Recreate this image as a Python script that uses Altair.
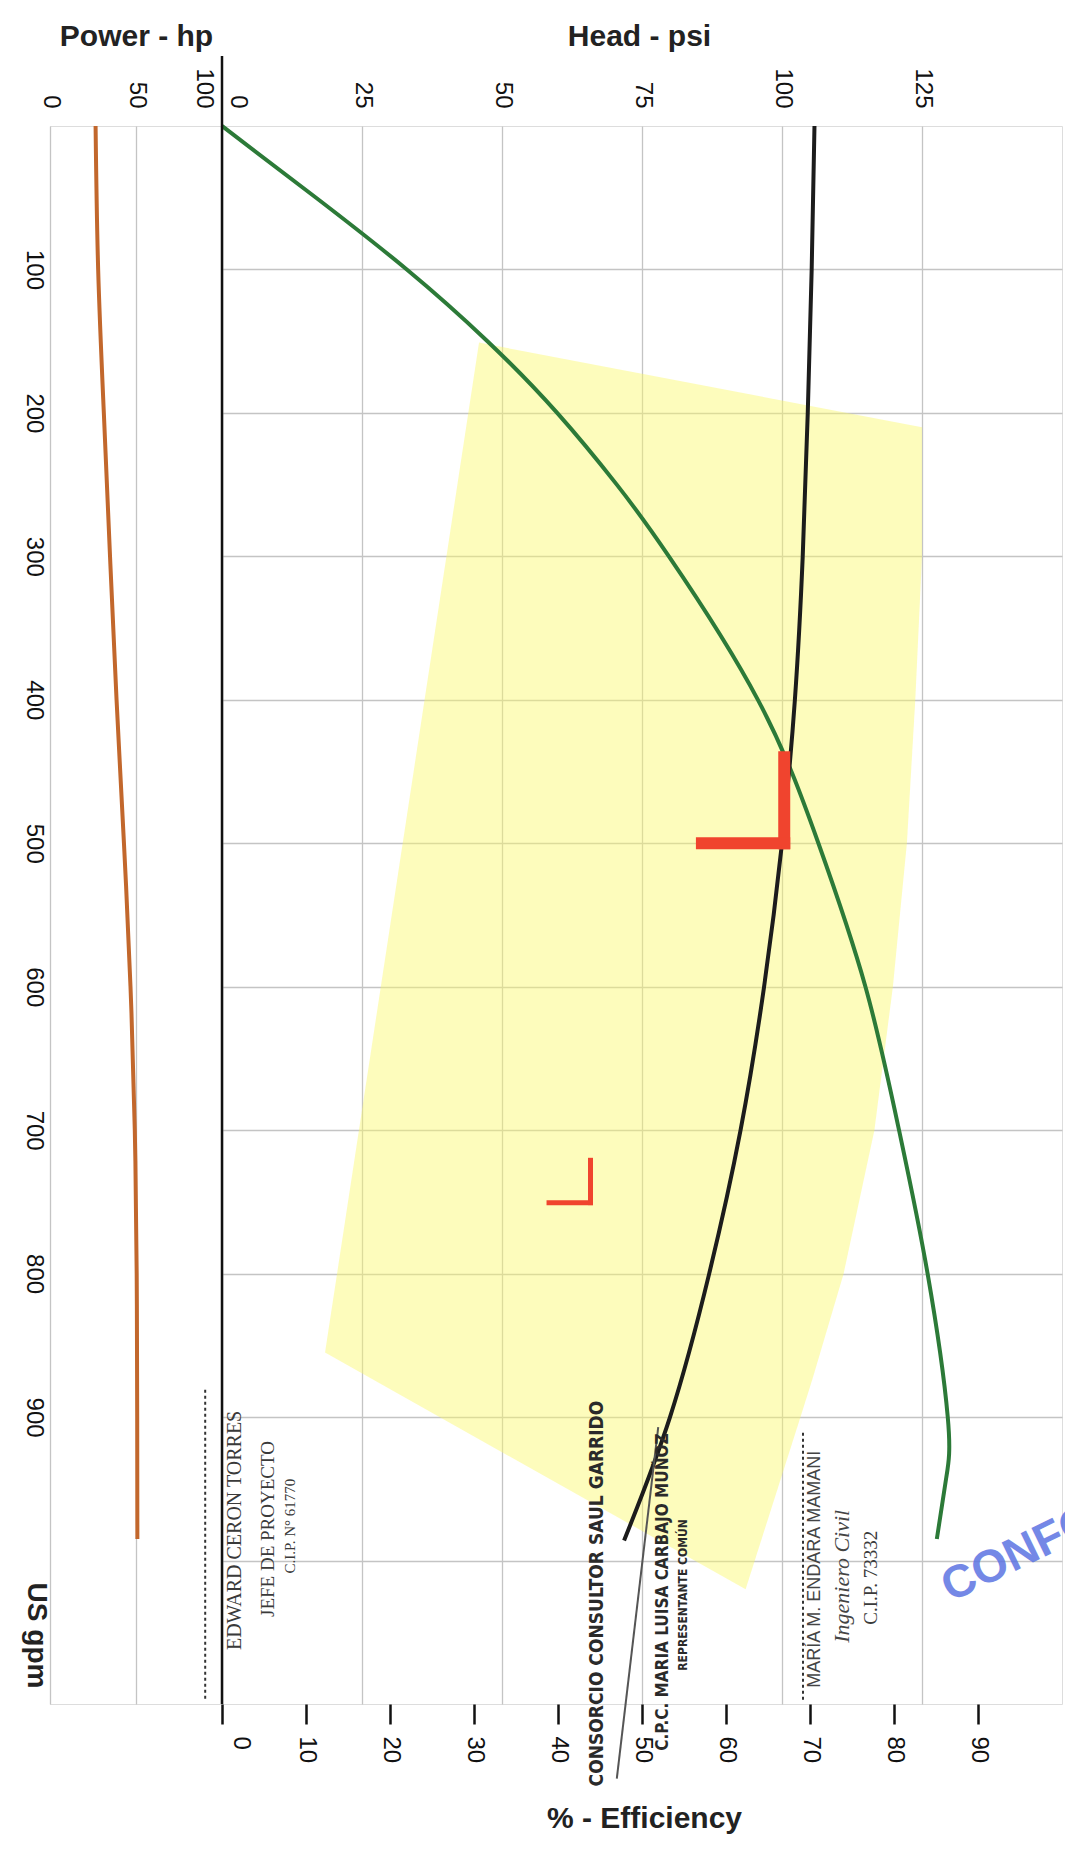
import altair as alt
import pandas as pd

# ---------------- data ----------------
# Head curve (psi) vs flow (US gpm)
head_gpm = [0, 100, 200, 300, 400, 500, 600, 700, 800, 900, 986]
head_psi = [105.8, 105.3, 104.6, 103.7, 102.3, 100.0, 96.8, 92.6, 87.0, 80.0, 71.8]

# Efficiency curve (%) vs flow
eff_gpm = [0, 50, 100, 150, 200, 250, 300, 400, 500, 600, 700, 800, 900, 943, 985]
eff_pct = [0, 11.2, 22.0, 31.6, 39.9, 47.0, 53.2, 63.8, 71.0, 76.6, 80.6, 84.0, 86.4, 86.2, 85.1]

# Power curve (hp) vs flow
pow_gpm = [0, 100, 200, 300, 400, 500, 600, 700, 800, 900, 985]
pow_hp = [26.5, 28.0, 31.3, 34.9, 38.7, 43.0, 46.8, 49.3, 50.4, 50.7, 50.8]

# Yellow operating region (vertices, head psi vs gpm)
poly_gpm = [151, 210, 300, 400, 500, 600, 700, 800, 874, 900, 1020, 855, 151]
poly_head = [45.9, 125, 125, 123.8, 122.3, 119.8, 116.5, 111.0, 105.4, 103.3, 93.5, 18.4, 45.9]

# Red duty-point markers (L shapes)
red_gpm1 = [440, 500, 721, 750.5]
red_gpm2 = [500, 500, 750.5, 750.5]
red_h1 = [100.4, 85.7, 65.8, 58.4]
red_h2 = [100.4, 100.4, 65.8, 65.8]
red_w = [12, 12, 5, 5]

# Axis tick values
gpm_ticks = [100, 200, 300, 400, 500, 600, 700, 800, 900, 1000]
hp_ticks = [0, 50, 100]
psi_ticks = [0, 25, 50, 75, 100, 125]
eff_ticks = [0, 10, 20, 30, 40, 50, 60, 70, 80, 90]

# Signature-block texts
serif_txt = ["EDWARD CERON TORRES", "JEFE DE PROYECTO", "C.I.P. N° 61770", "C.I.P. 73332"]
serif_head = [2.3, 8.2, 12.1, 115.9]
serif_gpm = [979, 978, 976, 1012]
serif_fs = [20, 19, 15, 19]

bold_txt = ["CONSORCIO CONSULTOR SAUL GARRIDO", "C.P.C. MARIA LUISA CARBAJO MUÑOZ", "REPRESENTANTE COMÚN"]
bold_head = [67.0, 78.8, 82.3]
bold_gpm = [1023, 1022, 1024]
bold_fs = [19, 17, 12]

sans_txt = ["MARÍA M. ENDARA MAMANI"]
sans_head = [105.9]
sans_gpm = [1006]

ital_txt = ["Ingeniero Civil"]
ital_head = [110.7]
ital_gpm = [1011]

dash_head = [-3.0, 103.75]
dash_gpm1 = [881, 911]
dash_gpm2 = [1097, 1097]

slant_h1, slant_h2 = [70.5], [77.9]
slant_g1, slant_g2 = [1152], [907]

# ---------------- layout ----------------
W, H = 1012, 1578
P = 172  # pixel width of power band

y_scale = alt.Scale(domain=[0, 1100], reverse=True, nice=False, zero=False)
y_axis = alt.Axis(
    values=gpm_ticks, labelExpr="datum.value == 1000 ? '' : datum.label",
    orient="left", ticks=False, domain=False, grid=True,
    gridColor="#c4c4c4", gridWidth=1.3,
    labelAngle=90, labelAlign="center", labelBaseline="top", labelPadding=5,
    labelFont="Liberation Sans", labelFontSize=24, labelColor="#111",
    labelOverlap=False, labelFlush=False,
    title="US gpm", titleAngle=90, titleX=-15, titleY=1509,
    titleAlign="center", titleBaseline="middle",
    titleFont="Liberation Sans", titleFontSize=28, titleFontWeight="bold", titleColor="#222",
)


def Y(field):
    return alt.Y(f"{field}:Q", scale=y_scale, axis=y_axis)


def head_scale():
    return alt.Scale(domain=[0, 150], range=[P, W], nice=False, zero=False)


def hx(field):
    return alt.X(f"{field}:Q", scale=head_scale(), axis=None)


label_common = dict(labelFont="Liberation Sans", labelFontSize=24, labelColor="#111",
                    labelOverlap=False, labelFlush=False, labelBound=False, labelAngle=90)
title_common = dict(titleFont="Liberation Sans", titleFontSize=30, titleFontWeight="bold",
                    titleColor="#222", titleAngle=0, titleAlign="center")

# yellow region
poly_df = pd.DataFrame({"gpm": poly_gpm, "head": poly_head, "idx": list(range(len(poly_gpm)))})
poly = alt.Chart(poly_df).mark_line(strokeOpacity=0, strokeWidth=0, interpolate="linear").encode(
    x=hx("head"), y=Y("gpm"), order=alt.Order("idx:Q"),
    fill=alt.value("#fbf86a"), fillOpacity=alt.value(0.45),
)

# power curve with power axis
pow_df = pd.DataFrame({"gpm": pow_gpm, "hp": pow_hp})
power = alt.Chart(pow_df).mark_line(color="#c2672c", strokeWidth=4, interpolate="natural").encode(
    x=alt.X("hp:Q", scale=alt.Scale(domain=[0, 100], range=[0, P], nice=False, zero=False),
            axis=alt.Axis(orient="top", values=hp_ticks, ticks=False, domain=False, grid=True,
                          gridColor="#c4c4c4", gridWidth=1.3,
                          labelAlign="right", labelBaseline="middle", labelPadding=18,
                          labelOffset={"condition": {"test": "datum.value == 100", "value": -19}, "value": 0},
                          title="Power - hp", titleX=86, titleY=-81, titleBaseline="alphabetic",
                          **label_common, **title_common)),
    y=Y("gpm"), order=alt.Order("gpm:Q"),
)

# head curve with head axis
head_df = pd.DataFrame({"gpm": head_gpm, "head": head_psi})
head = alt.Chart(head_df).mark_line(color="#1c1c1c", strokeWidth=4, interpolate="natural").encode(
    x=alt.X("head:Q", scale=head_scale(),
            axis=alt.Axis(orient="top", values=psi_ticks, ticks=False, domain=False, grid=True,
                          gridColor="#c4c4c4", gridWidth=1.3,
                          labelAlign="right", labelBaseline="middle", labelPadding=18,
                          labelOffset={"condition": {"test": "datum.value == 0", "value": 15}, "value": 0},
                          title="Head - psi", titleX=589, titleY=-81, titleBaseline="alphabetic",
                          **label_common, **title_common)),
    y=Y("gpm"), order=alt.Order("gpm:Q"),
)

# efficiency curve with efficiency axis
eff_df = pd.DataFrame({"gpm": eff_gpm, "eff": eff_pct})
eff = alt.Chart(eff_df).mark_line(color="#2c7a38", strokeWidth=4, interpolate="natural").encode(
    x=alt.X("eff:Q", scale=alt.Scale(domain=[0, 100], range=[P, W], nice=False, zero=False),
            axis=alt.Axis(orient="bottom", values=eff_ticks, ticks=True, tickSize=20, tickWidth=2.5,
                          tickColor="#111", domain=False, grid=False,
                          labelAlign="left", labelBaseline="middle", labelPadding=12,
                          labelOffset={"condition": {"test": "datum.value == 0", "value": 18}, "value": 0},
                          title="% - Efficiency", titleX=594, titleY=123, titleBaseline="alphabetic",
                          **label_common, **title_common)),
    y=Y("gpm"), order=alt.Order("gpm:Q"),
)

# black vertical line at head 0 / power 100
zero_df = pd.DataFrame({"h": [0]})
zero_line = alt.Chart(zero_df).mark_rule(color="#111", strokeWidth=2.5).encode(
    x=hx("h"), y=alt.value(-70), y2=alt.value(H),
)

# red duty point markers
red_df = pd.DataFrame({"g1": red_gpm1, "g2": red_gpm2, "h1": red_h1, "h2": red_h2, "w": red_w})
red = alt.Chart(red_df).mark_rule(color="#f0442e", strokeCap="square").encode(
    x=hx("h1"), x2="h2", y=Y("g1"), y2="g2",
    strokeWidth=alt.StrokeWidth("w:Q", scale=None, legend=None),
)

# dashed signature lines
dash_df = pd.DataFrame({"h": dash_head, "g1": dash_gpm1, "g2": dash_gpm2})
dashes = alt.Chart(dash_df).mark_rule(color="#333", strokeWidth=2, strokeDash=[3, 3]).encode(
    x=hx("h"), y=Y("g1"), y2="g2",
)

# slanted stamp line
slant_df = pd.DataFrame({"h1": slant_h1, "h2": slant_h2, "g1": slant_g1, "g2": slant_g2})
slant = alt.Chart(slant_df).mark_rule(color="#555", strokeWidth=2).encode(
    x=hx("h1"), x2="h2", y=Y("g1"), y2="g2",
)


def text_layer(txt, hd, gp, fs, font, weight="normal", style="normal", color="#333"):
    df = pd.DataFrame({"t": txt, "h": hd, "gpm": gp, "fs": fs})
    return alt.Chart(df).mark_text(angle=270, align="center", baseline="middle", font=font,
                                   fontWeight=weight, fontStyle=style, color=color).encode(
        x=hx("h"), y=Y("gpm"), text="t:N", size=alt.Size("fs:Q", scale=None, legend=None),
    )


t_serif = text_layer(serif_txt, serif_head, serif_gpm, serif_fs, "Liberation Serif", color="#3a3a3a")
t_bold = text_layer(bold_txt, bold_head, bold_gpm, bold_fs,
                    "Liberation Sans Narrow, DejaVu Sans Condensed, sans-serif", weight="bold", color="#2a2a2a")
t_sans = text_layer(sans_txt, sans_head, sans_gpm, [18], "Liberation Sans", color="#444")
t_ital = text_layer(ital_txt, ital_head, ital_gpm, [22], "Liberation Serif", style="italic", color="#444")

stamp_df = pd.DataFrame({"t": ["CONFORME"], "h": [130.9], "gpm": [1035.5]})
stamp = alt.Chart(stamp_df).mark_text(angle=334, align="left", baseline="bottom", font="Liberation Sans",
                                      fontWeight="bold", fontSize=46, color="#5c74e2", opacity=0.85).encode(
    x=hx("h"), y=Y("gpm"), text="t:N",
)

chart = alt.layer(
    poly, power, eff, head, zero_line, red, dashes, slant, t_serif, t_bold, t_sans, t_ital, stamp
).resolve_scale(x="independent").resolve_axis(x="independent").properties(
    width=W, height=H,
    autosize=alt.AutoSizeParams(type="none"),
    padding={"left": 42, "top": 118, "right": 3, "bottom": 135},
).configure_view(stroke="#111", strokeWidth=2.5).configure(background="white")

chart.save("out.html", embed_options={"renderer": "svg", "actions": False})
